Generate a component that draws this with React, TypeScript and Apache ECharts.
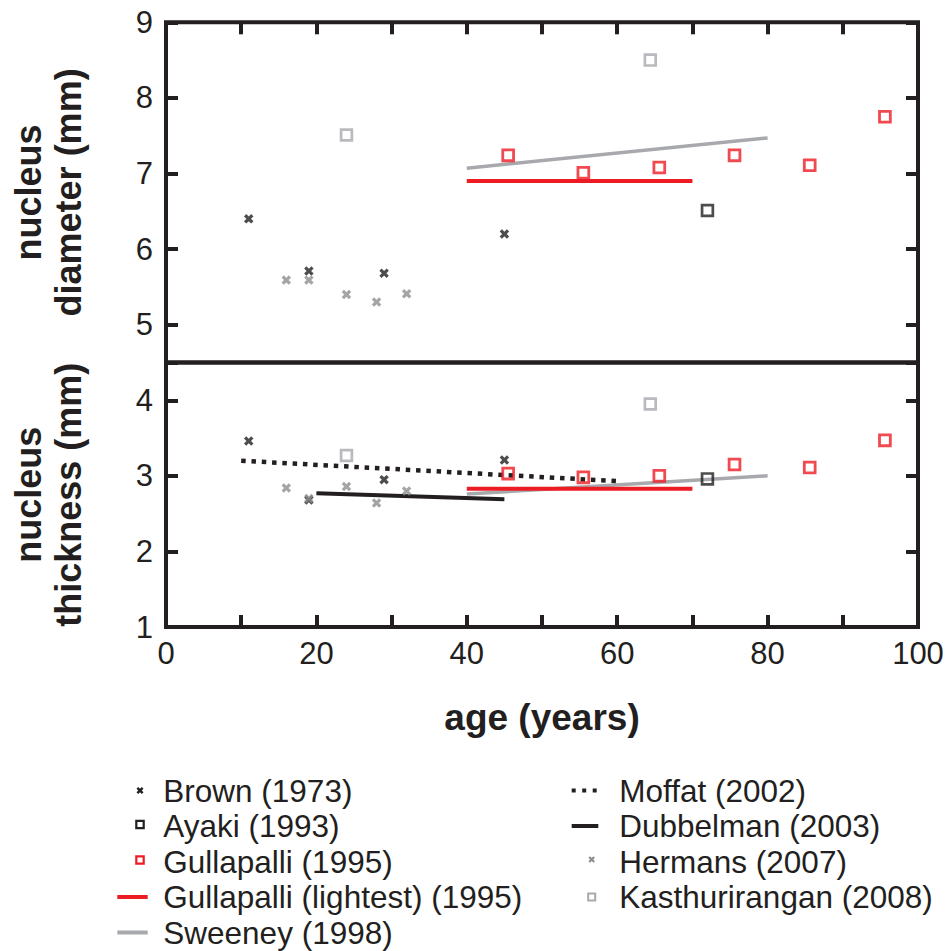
import React, { useEffect, useRef } from 'react';
import * as echarts from 'echarts';

// ---------- data ----------
const seriesNames = [
  'Brown (1973)',
  'Ayaki (1993)',
  'Gullapalli (1995)',
  'Gullapalli (lightest) (1995)',
  'Sweeney (1998)',
  'Moffat (2002)',
  'Dubbelman (2003)',
  'Hermans (2007)',
  'Kasthurirangan (2008)',
];

const xTickLabels = [0, 20, 40, 60, 80, 100];
const diameterTickLabels = [5, 6, 7, 8, 9];
const thicknessTickLabels = [1, 2, 3, 4];

// top panel: nucleus diameter (mm) vs age (years)
const brownDiameter = [[11, 6.4], [19, 5.71], [29, 5.68], [45, 6.2]];
const ayakiDiameter = [[72, 6.51]];
const gullapalliDiameter = [[45.5, 7.24], [55.5, 7.01], [65.6, 7.08], [75.6, 7.24], [85.6, 7.11], [95.6, 7.75]];
const gullapalliLightestDiameter = [[40, 6.9], [70, 6.9]];
const sweeneyDiameter = [[40, 7.07], [80, 7.47]];
const hermansDiameter = [[16, 5.59], [19, 5.59], [24, 5.4], [28, 5.3], [32, 5.41]];
const kasthuriranganDiameter = [[24, 7.51], [64.4, 8.5]];

// bottom panel: nucleus thickness (mm) vs age (years)
const brownThickness = [[11, 3.46], [19, 2.68], [29, 2.95], [45, 3.21]];
const ayakiThickness = [[72, 2.96]];
const gullapalliThickness = [[45.5, 3.03], [55.5, 2.98], [65.6, 3.0], [75.6, 3.15], [85.6, 3.11], [95.6, 3.47]];
const gullapalliLightestThickness = [[40, 2.83], [70, 2.83]];
const sweeneyThickness = [[40, 2.76], [80, 3.0]];
const moffatThickness = [[10, 3.2], [60, 2.93]];
const dubbelmanThickness = [[20, 2.77], [45, 2.69]];
const hermansThickness = [[16, 2.84], [19, 2.7], [24, 2.86], [28, 2.64], [32, 2.8]];
const kasthuriranganThickness = [[24, 3.27], [64.4, 3.95]];

// ---------- styles ----------
const INK = '#231f20';
const RED = '#ed1c24';
const GRAY_LINE = '#a7a9ac';
const GRAY_SQ = '#a7a9ac';
const GRAY_X = '#8d8e91';
const FONT = '"Liberation Sans", Arial, Helvetica, sans-serif';

const X_PTS = [
  [0, 2.4], [2.4, 0], [5, 2.6], [7.6, 0], [10, 2.4], [7.4, 5],
  [10, 7.6], [7.6, 10], [5, 7.4], [2.4, 10], [0, 7.6], [2.6, 5],
];
const X_PATH = 'path://M' + X_PTS.map((p) => p.join(',')).join('L') + 'Z';

function xPolygon(cx: number, cy: number, s: number, color: string) {
  return {
    type: 'polygon',
    shape: { points: X_PTS.map(([px, py]) => [cx + (px - 5) * s / 10, cy + (py - 5) * s / 10]) },
    style: { fill: color },
  };
}
function sqRect(cx: number, cy: number, s: number, color: string, lw: number) {
  return {
    type: 'rect',
    shape: { x: cx - s / 2, y: cy - s / 2, width: s, height: s },
    style: { fill: 'none', stroke: color, lineWidth: lw },
  };
}
function hLine(x1: number, x2: number, y: number, color: string, lw: number, dash?: number[]) {
  return {
    type: 'line',
    shape: { x1, y1: y, x2, y2: y },
    style: { stroke: color, lineWidth: lw, lineDash: dash || null, lineCap: 'butt' },
  };
}
function legendText(x: number, y: number, text: string) {
  return {
    type: 'text',
    x,
    y,
    style: { text, fill: INK, fontSize: 31.5, fontFamily: FONT, verticalAlign: 'middle', align: 'left' },
  };
}

function scatterX(name: string, data: number[][], axis: number, color: string) {
  return {
    name, type: 'scatter', data, xAxisIndex: axis === 0 ? 0 : 1, yAxisIndex: axis === 0 ? 0 : 2,
    symbol: X_PATH, symbolSize: 9.5, itemStyle: { color }, z: 5, silent: true,
  };
}
function scatterSq(name: string, data: number[][], axis: number, color: string, bw: number) {
  return {
    name, type: 'scatter', data, xAxisIndex: axis === 0 ? 0 : 1, yAxisIndex: axis === 0 ? 0 : 2,
    symbol: 'rect', symbolSize: 10.8,
    itemStyle: { color: 'transparent', borderColor: color, borderWidth: bw }, z: 5, silent: true,
  };
}
function lineSeries(name: string, data: number[][], axis: number, color: string, width: number, type: any = 'solid') {
  return {
    name, type: 'line', data, xAxisIndex: axis === 0 ? 0 : 1, yAxisIndex: axis === 0 ? 0 : 2,
    symbol: 'none', lineStyle: { color, width, type, cap: 'butt' }, itemStyle: { color }, z: 3, silent: true,
  };
}

const tickStyle = { show: true, inside: true, length: 12, lineStyle: { color: INK, width: 4 } };
const labelStyle = { color: INK, fontSize: 31, fontFamily: FONT };
const nameStyle = { color: INK, fontSize: 36, fontWeight: 'bold' as const, fontFamily: FONT, lineHeight: 40 };

function yAxis(grid: number, min: number, max: number, split: number, pos: 'left' | 'right', ticks: number[], name?: string) {
  return {
    type: 'value', gridIndex: grid, min, max, splitNumber: split, position: pos,
    axisLine: { show: false }, splitLine: { show: false }, axisTick: tickStyle,
    axisLabel: pos === 'left'
      ? { ...labelStyle, margin: 13, formatter: (v: number) => (ticks.includes(v) ? String(v) : '') }
      : { show: false },
    name: name || '', nameLocation: 'middle', nameRotate: 90, nameGap: 78, nameTextStyle: nameStyle,
  };
}

// legend row centres (shared by both columns)
const ROWS = [790.5, 826, 861.5, 897, 932.5];

export default function App() {
  const ref = useRef<HTMLDivElement>(null);
  useEffect(() => {
    if (!ref.current) return;
    const chart = echarts.init(ref.current, null, { renderer: 'svg' });
    const option: any = {
      animation: false,
      backgroundColor: '#ffffff',
      grid: [
        { left: 163, top: 22.3, width: 755, height: 340.2, show: true, borderColor: INK, borderWidth: 4, backgroundColor: 'transparent' },
        { left: 163, top: 362.5, width: 755, height: 264.5, show: true, borderColor: INK, borderWidth: 4, backgroundColor: 'transparent' },
      ],
      xAxis: [
        {
          type: 'value', gridIndex: 0, min: 0, max: 100, interval: 10, position: 'top',
          axisLine: { show: false }, splitLine: { show: false }, axisTick: tickStyle, axisLabel: { show: false },
        },
        {
          type: 'value', gridIndex: 1, min: 0, max: 100, interval: 10, position: 'bottom',
          axisLine: { show: false }, splitLine: { show: false }, axisTick: tickStyle,
          axisLabel: { ...labelStyle, margin: 11, formatter: (v: number) => (xTickLabels.includes(v) ? String(v) : '') },
          name: 'age (years)', nameLocation: 'middle', nameGap: 70,
          nameTextStyle: { ...nameStyle, fontSize: 37 },
        },
      ],
      yAxis: [
        yAxis(0, 4.5, 9, 4, 'left', diameterTickLabels, 'nucleus\ndiameter (mm)'),
        yAxis(0, 4.5, 9, 4, 'right', diameterTickLabels),
        yAxis(1, 1, 4.5, 3, 'left', thicknessTickLabels, 'nucleus\nthickness (mm)'),
        yAxis(1, 1, 4.5, 3, 'right', thicknessTickLabels),
      ],
      series: [
        // top panel
        lineSeries(seriesNames[4], sweeneyDiameter, 0, GRAY_LINE, 3.5),
        lineSeries(seriesNames[3], gullapalliLightestDiameter, 0, RED, 4),
        scatterX(seriesNames[0], brownDiameter, 0, INK),
        scatterX(seriesNames[7], hermansDiameter, 0, GRAY_X),
        scatterSq(seriesNames[1], ayakiDiameter, 0, INK, 2.7),
        scatterSq(seriesNames[2], gullapalliDiameter, 0, RED, 2.8),
        scatterSq(seriesNames[8], kasthuriranganDiameter, 0, GRAY_SQ, 2.7),
        // bottom panel
        lineSeries(seriesNames[4], sweeneyThickness, 1, GRAY_LINE, 3.5),
        lineSeries(seriesNames[3], gullapalliLightestThickness, 1, RED, 4),
        lineSeries(seriesNames[6], dubbelmanThickness, 1, INK, 4),
        lineSeries(seriesNames[5], moffatThickness, 1, INK, 4.5, [4.5, 5.8]),
        scatterX(seriesNames[0], brownThickness, 1, INK),
        scatterX(seriesNames[7], hermansThickness, 1, GRAY_X),
        scatterSq(seriesNames[1], ayakiThickness, 1, INK, 2.7),
        scatterSq(seriesNames[2], gullapalliThickness, 1, RED, 2.8),
        scatterSq(seriesNames[8], kasthuriranganThickness, 1, GRAY_SQ, 2.7),
      ],
      graphic: [
        // left legend column
        xPolygon(140, ROWS[0], 7, INK), legendText(163.3, ROWS[0], seriesNames[0]),
        sqRect(140, ROWS[1] - 1.5, 7.4, INK, 2.2), legendText(163.3, ROWS[1], seriesNames[1]),
        sqRect(140, ROWS[2] - 1.5, 7.4, RED, 2.2), legendText(163.3, ROWS[2], seriesNames[2]),
        hLine(117.3, 147.7, ROWS[3], RED, 4), legendText(163.3, ROWS[3], seriesNames[3]),
        hLine(117.3, 147.7, ROWS[4], GRAY_LINE, 4), legendText(163.3, ROWS[4], seriesNames[4]),
        // right legend column
        hLine(571.7, 596.7, ROWS[0], INK, 4, [4, 6.5]), legendText(619.3, ROWS[0], seriesNames[5]),
        hLine(571.7, 598.3, ROWS[1], INK, 4), legendText(619.3, ROWS[1], seriesNames[6]),
        xPolygon(591.7, ROWS[2] - 2, 6.5, GRAY_X), legendText(619.3, ROWS[2], seriesNames[7]),
        sqRect(591.7, ROWS[3], 7, GRAY_SQ, 2), legendText(619.3, ROWS[3], seriesNames[8]),
      ],
    };
    chart.setOption(option);
    return () => chart.dispose();
  }, []);
  return (
    <div
      ref={ref}
      style={{ position: 'fixed', left: 0, top: 0, width: 948, height: 951, background: '#fff' }}
    />
  );
}
